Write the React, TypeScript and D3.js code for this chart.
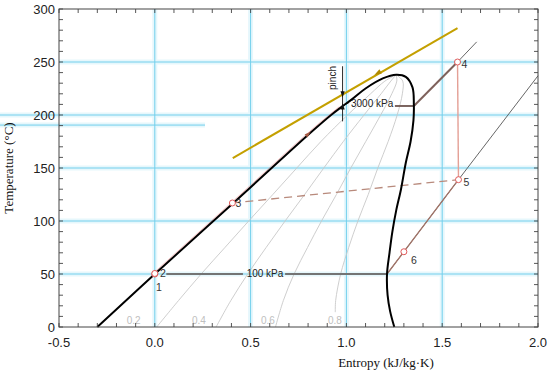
import React from 'react';
import * as d3 from 'd3';

// ---------- data (entropy kJ/kg·K, temperature °C) ----------
const xTicks = [-0.5, 0.0, 0.5, 1.0, 1.5, 2.0];
const yTicks = [0, 50, 100, 150, 200, 250, 300];

const satLiquid: [number, number][] = [
  [-0.30, 0], [0.0, 50], [0.41, 117], [0.83, 186], [0.92, 200], [0.97, 207],
  [1.03, 215], [1.10, 225], [1.19, 234.5], [1.26, 238],
];
const satVapor: [number, number][] = [
  [1.26, 238], [1.31, 236], [1.345, 226], [1.352, 210], [1.35, 195], [1.335, 175],
  [1.31, 155], [1.285, 130], [1.26, 110], [1.24, 90], [1.225, 70], [1.212, 50],
  [1.215, 30], [1.228, 15], [1.25, 0],
];

const qualityTemps = [0, 25, 50, 75, 100, 125, 150, 175, 200, 220, 232, 238];
const quality02 = [0.01, 0.124, 0.242, 0.366, 0.49, 0.616, 0.741, 0.867, 1.006, 1.126, 1.201, 1.26];
const quality04 = [0.32, 0.397, 0.485, 0.581, 0.68, 0.782, 0.882, 0.984, 1.092, 1.181, 1.232, 1.26];
const quality06 = [0.63, 0.671, 0.727, 0.797, 0.87, 0.948, 1.023, 1.101, 1.179, 1.237, 1.263, 1.26];
const quality08 = [0.942, 0.944, 0.97, 1.012, 1.06, 1.114, 1.164, 1.218, 1.265, 1.292, 1.294, 1.26];
const quality08Start = 14;
const qualityLabels = ['0.2', '0.4', '0.6', '0.8'];
const qualityLabelS = [-0.11, 0.23, 0.59, 0.94];

const heatSource: [number, number][] = [[0.407, 159.4], [1.58, 282]];
const heatSourceArrow: [number, number] = [1.164, 239.6];
const liquidArrow: [number, number] = [0.8, 182];

const p100Left: [number, number][] = [[0.06, 50], [0.46, 50]];
const p100Right: [number, number][] = [[0.68, 50], [1.212, 50]];
const p100Super: [number, number][] = [[1.212, 50], [1.585, 139], [2.0, 237]];
const p100Cooling: [number, number][] = [[1.212, 50], [1.585, 139]];

const p3000Evap: [number, number][] = [[1.253, 208.5], [1.352, 208.5]];
const p3000Super: [number, number][] = [[1.352, 208.5], [1.58, 250]];
const p3000Beyond: [number, number][] = [[1.58, 250], [1.68, 269]];

const expansion: [number, number][] = [[1.58, 250], [1.585, 139]];
const recuperator: [number, number][] = [[0.405, 117], [1.585, 139]];
const pumpHeating: [number, number][] = [[0.0, 50], [0.41, 117], [0.83, 186], [0.97, 207]];

const pinchS = 0.98;
const pinchHot = 219.3;
const pinchCold = 208.3;
const pinchRange: [number, number] = [194, 246];

const stateIds = ['1', '2', '3', '4', '5', '6'];
const stateS = [0.0, 0.0, 0.405, 1.58, 1.585, 1.30];
const stateT = [50, 50.5, 117, 250, 139, 71];

export default function App() {
  const W = 550, H = 376;
  const X = d3.scaleLinear().domain([-0.5, 2.0]).range([59, 538]);
  const Y = d3.scaleLinear().domain([0, 300]).range([327, 9]);
  const line = d3.line<[number, number]>().x(d => X(d[0])).y(d => Y(d[1]));
  const smooth = d3.line<[number, number]>().x(d => X(d[0])).y(d => Y(d[1])).curve(d3.curveCatmullRom.alpha(0.5));

  const dome = smooth([...satLiquid, ...satVapor.slice(1)]) || '';
  const qualities = [quality02, quality04, quality06, quality08].map((q, k) =>
    q.map((s, i) => [s, (k === 3 && i === 0) ? quality08Start : qualityTemps[i]] as [number, number]));

  const minorX = d3.range(-5, 21).map(i => i / 10);
  const minorY = d3.range(0, 31).map(i => i * 10);
  const [x0, x1] = X.range();
  const [y0, y1] = Y.range();

  const gridColor = '#72cfec';
  const haloColor = '#e6f7fc';
  const tickFont = '"Liberation Sans", Arial, sans-serif';
  const serif = '"Liberation Serif", "Times New Roman", serif';

  const arrowHead = (px: number, py: number, angle: number, size: number, color: string, key: string) => {
    const a = angle;
    const p1 = [px + Math.cos(a) * size, py + Math.sin(a) * size];
    const p2 = [px + Math.cos(a + 2.5) * size, py + Math.sin(a + 2.5) * size];
    const p3 = [px + Math.cos(a - 2.5) * size, py + Math.sin(a - 2.5) * size];
    return <polygon key={key} points={`${p1.join(',')} ${p2.join(',')} ${p3.join(',')}`} fill={color} />;
  };

  const dirAngle = (a: [number, number], b: [number, number]) =>
    Math.atan2(Y(b[1]) - Y(a[1]), X(b[0]) - X(a[0]));

  const labelOffsets: Record<string, [number, number]> = {
    '1': [4, 13], '2': [8, 0], '3': [6, 1], '4': [7, 2], '5': [8, 3], '6': [10, 9],
  };

  const innerX = xTicks.filter(v => v > -0.5 && v < 2.0);
  const innerY = yTicks.filter(v => v > 0 && v < 300);

  return (
    <svg width={W} height={H} style={{ position: 'absolute', left: 0, top: 0, background: '#fff' }}>
      <rect x={0} y={0} width={W} height={H} fill="#fff" />
      {/* grid */}
      <g>
        {innerX.map(v => (
          <line key={'gxh' + v} x1={X(v)} x2={X(v)} y1={y1} y2={y0} stroke={haloColor} strokeWidth={5} />
        ))}
        {innerY.map(v => (
          <line key={'gyh' + v} x1={v === 200 ? 0 : x0} x2={x1} y1={Y(v)} y2={Y(v)} stroke={haloColor} strokeWidth={5} />
        ))}
        <line x1={0} x2={205} y1={Y(190.5)} y2={Y(190.5)} stroke={haloColor} strokeWidth={5} />
        {innerX.map(v => (
          <line key={'gxl' + v} x1={X(v)} x2={X(v)} y1={y1} y2={y0} stroke={gridColor} strokeWidth={1} />
        ))}
        {innerY.map(v => (
          <line key={'gyl' + v} x1={v === 200 ? 0 : x0} x2={x1} y1={Y(v)} y2={Y(v)} stroke={gridColor} strokeWidth={1} />
        ))}
        <line x1={0} x2={205} y1={Y(190.5)} y2={Y(190.5)} stroke={gridColor} strokeWidth={1} />
      </g>

      {/* quality lines */}
      <g fill="none" stroke="#c8c8c8" strokeWidth={0.9}>
        {qualities.map((q, i) => (
          <path key={'q' + i} d={smooth(q) || ''} />
        ))}
      </g>
      {qualityLabels.map((t, i) => (
        <text key={'ql' + t} x={X(qualityLabelS[i])} y={324} fontSize={10} fill="#c0c0c0"
          fontFamily={tickFont} textAnchor="middle">{t}</text>
      ))}

      {/* isobars */}
      <g fill="none" stroke="#747474" strokeWidth={1.8}>
        <path d={line(p100Left) || ''} />
        <path d={line(p100Right) || ''} />
      </g>
      <path d={line(p100Super) || ''} fill="none" stroke="#555" strokeWidth={0.9} />
      <path d={line(p100Cooling) || ''} fill="none" stroke="#a27468" strokeWidth={1.3} />
      <path d={line(p3000Beyond) || ''} fill="none" stroke="#555" strokeWidth={0.9} />
      <path d={line(p3000Evap) || ''} fill="none" stroke="#6e5550" strokeWidth={1.8} />
      <path d={line(p3000Super) || ''} fill="none" stroke="#7e615b" strokeWidth={2} />
      <text x={351} y={106.5} fontSize={10} fill="#222" fontFamily={tickFont}>3000 kPa</text>
      <text x={265} y={276.5} fontSize={10} fill="#222" fontFamily={tickFont} textAnchor="middle">100 kPa</text>
      <line x1={X(pinchS) + 0.5} y1={Y(pinchCold) - 0.5} x2={349} y2={102.5} stroke="#222" strokeWidth={0.9} />

      {/* processes */}
      <path d={line(expansion) || ''} fill="none" stroke="#e4a096" strokeWidth={1.4} />
      <path d={line(recuperator) || ''} fill="none" stroke="#b88a7c" strokeWidth={1.3} strokeDasharray="8,5" />

      {/* heat source */}
      <path d={line(heatSource) || ''} fill="none" stroke="#c4a000" strokeWidth={2} />
      {arrowHead(X(heatSourceArrow[0]), Y(heatSourceArrow[1]), dirAngle(heatSource[1], heatSource[0]), 4, '#b08a00', 'ha')}

      {/* saturation dome */}
      <path d={dome} fill="none" stroke="#000" strokeWidth={2} />
      <path d={smooth(pumpHeating) || ''} fill="none" stroke="#e06060" strokeWidth={0.8} opacity={0.5} transform="translate(-1.2,-1)" />
      {arrowHead(X(liquidArrow[0]), Y(liquidArrow[1]), dirAngle(satLiquid[2], satLiquid[3]), 3.5, '#a65a44', 'la')}

      {/* pinch marker */}
      <line x1={X(pinchS)} x2={X(pinchS)} y1={Y(pinchRange[1])} y2={Y(pinchRange[0])} stroke="#111" strokeWidth={0.9} />
      {arrowHead(X(pinchS), Y(pinchHot) - 0.5, Math.PI / 2, 3.5, '#111', 'p1')}
      {arrowHead(X(pinchS), Y(pinchCold) + 0.5, -Math.PI / 2, 3.5, '#111', 'p2')}
      <text transform={`translate(335.5,78) rotate(-90)`} fontSize={10} fill="#222" fontFamily={tickFont} textAnchor="middle">pinch</text>

      {/* state points */}
      {stateIds.map((id, i) => (
        <circle key={'c' + id} cx={X(stateS[i])} cy={Y(stateT[i])} r={3} fill="#fff" stroke="#e05a5a" strokeWidth={1} />
      ))}
      {stateIds.map((id, i) => (
        <text key={'t' + id} x={X(stateS[i]) + labelOffsets[id][0]} y={Y(stateT[i]) + labelOffsets[id][1] + 3.5}
          fontSize={10.5} fill="#333" fontFamily={tickFont} textAnchor="middle">{id}</text>
      ))}

      {/* frame and ticks */}
      <rect x={x0} y={y1} width={x1 - x0} height={y0 - y1} fill="none" stroke="#444" strokeWidth={1} />
      <g stroke="#444" strokeWidth={0.9}>
        {minorX.map(v => (
          <g key={'tx' + v}>
            <line x1={X(v)} x2={X(v)} y1={y0} y2={y0 - 4} />
            <line x1={X(v)} x2={X(v)} y1={y1} y2={y1 + 4} />
          </g>
        ))}
        {minorY.map(v => (
          <g key={'ty' + v}>
            <line x1={x0} x2={x0 + 4} y1={Y(v)} y2={Y(v)} />
            <line x1={x1} x2={x1 - 4} y1={Y(v)} y2={Y(v)} />
          </g>
        ))}
      </g>
      {xTicks.map(v => (
        <text key={'xl' + v} x={X(v)} y={347} fontSize={13} fill="#222" fontFamily={tickFont} textAnchor="middle">
          {v < 0 ? '-' + Math.abs(v).toFixed(1) : v.toFixed(1)}
        </text>
      ))}
      {yTicks.map(v => (
        <text key={'yl' + v} x={55} y={Y(v) + 4.5} fontSize={13} fill="#222" fontFamily={tickFont} textAnchor="end">{v}</text>
      ))}
      <text x={386} y={367} fontSize={13} fill="#111" fontFamily={serif} textAnchor="middle">Entropy (kJ/kg·K)</text>
      <text transform={`translate(13,168) rotate(-90)`} fontSize={13} fill="#111" fontFamily={serif} textAnchor="middle">Temperature (°C)</text>
    </svg>
  );
}
